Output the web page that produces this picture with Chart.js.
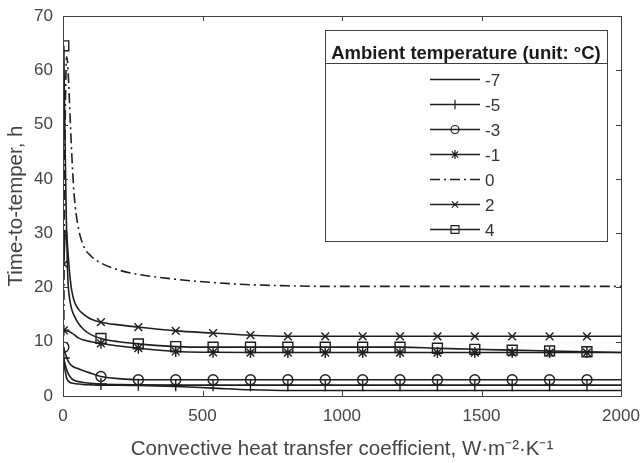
<!DOCTYPE html>
<html>
<head>
<meta charset="utf-8">
<script src="https://cdn.jsdelivr.net/npm/chart.js@4.4.0/dist/chart.umd.min.js"></script>
<style>
html, body { margin: 0; padding: 0; background: #fff; }
#wrap { width: 643px; height: 463px; position: relative; }
</style>
</head>
<body>
<div id="wrap"><canvas id="c"></canvas></div>
<script>
// convective heat transfer coefficient (x) and marker positions
var hValues = [3, 5, 10, 13, 17, 20, 25, 31, 40, 55, 75, 100, 136, 200, 270, 404, 538, 672, 806, 940, 1074, 1208, 1342, 1476, 1610, 1744, 1878, 2000];
var markerH = [3, 136, 270, 404, 538, 672, 806, 940, 1074, 1208, 1342, 1476, 1610, 1744, 1878];

// time-to-temper, h, per ambient temperature
var tMinus7 = [6.8, 5.6, 4.0, 3.3, 2.9, 2.7, 2.5, 2.4, 2.3, 2.2, 2.1, 2.05, 2.0, 2.0, 1.95, 1.75, 1.45, 1.15, 1.0, 1.0, 1.0, 1.0, 1.0, 1.0, 1.0, 1.0, 1.0, 1.0];
var tMinus5 = [7.0, 6.4, 5.4, 4.9, 4.3, 4.0, 3.6, 3.2, 2.9, 2.65, 2.5, 2.35, 2.2, 2.1, 2.05, 2.0, 2.0, 2.0, 2.0, 2.0, 2.0, 2.0, 2.0, 2.0, 2.0, 2.0, 2.0, 2.0];
var tMinus3 = [9.0, 8.4, 7.6, 7.1, 6.6, 6.3, 5.9, 5.6, 5.3, 5.0, 4.6, 4.2, 3.6, 3.2, 3.0, 3.0, 3.0, 3.0, 3.0, 3.0, 3.0, 3.0, 3.0, 3.0, 3.0, 3.0, 3.0, 3.0];
var tMinus1 = [12.1, 12.1, 12.0, 12.0, 12.0, 11.9, 11.8, 11.6, 11.3, 10.7, 10.3, 10.0, 9.7, 9.2, 8.8, 8.2, 8.05, 8.0, 8.0, 8.0, 8.0, 8.0, 8.0, 8.0, 8.0, 8.0, 8.0, 8.0];
var tZero = [14, 36, 58, 62.5, 61, 58, 52, 45, 37, 31, 27.5, 25.8, 24.5, 23.2, 22.4, 21.5, 20.9, 20.5, 20.3, 20.2, 20.2, 20.2, 20.2, 20.2, 20.2, 20.2, 20.2, 20.2];
var tPlus2 = [24.3, 27, 30.5, 30, 27, 25, 22, 19.5, 17.5, 16, 15, 14.2, 13.6, 13.1, 12.7, 12.0, 11.6, 11.2, 11.0, 11.0, 11.0, 11.0, 11.0, 11.0, 11.0, 11.0, 11.0, 11.0];
var tPlus4 = [64.5, 55, 38, 30, 22, 19.5, 17.5, 16, 14.8, 13.4, 12.2, 11.3, 10.6, 10.0, 9.6, 9.1, 9.0, 9.0, 9.0, 9.0, 9.0, 9.0, 8.8, 8.6, 8.45, 8.3, 8.15, 8.0];

var xTicks = [0, 500, 1000, 1500, 2000];
var yTicks = [0, 10, 20, 30, 40, 50, 60, 70];
var legendTitle = 'Ambient temperature (unit: \u00B0C)';

var ink = '#1e1e1e';
var axisInk = '#404040';
var font = '"Liberation Sans", Arial, Helvetica, sans-serif';

function makeSet(label, values, style, radius, dash) {
    return {
        label: label,
        data: hValues.map(function (h, i) { return { x: h, y: values[i] }; }),
        borderColor: ink,
        borderWidth: 1.6,
        borderDash: dash || [],
        pointStyle: style || 'circle',
        markerStyle: style,
        markerRadius: radius,
        pointRadius: function (ctx) {
            return style && markerH.indexOf(hValues[ctx.dataIndex]) >= 0 ? radius : 0;
        },
        pointHoverRadius: 0,
        pointBorderColor: ink,
        pointBackgroundColor: 'rgba(0,0,0,0)',
        pointBorderWidth: 1.4,
        cubicInterpolationMode: 'monotone',
        fill: false
    };
}

function drawMarker(c, style, r, x, y) {
    if (Chart.helpers && Chart.helpers.drawPoint) {
        Chart.helpers.drawPoint(c, { pointStyle: style, radius: r, rotation: 0, borderWidth: 1.2 }, x, y);
        return;
    }
    c.beginPath(); c.arc(x, y, r, 0, Math.PI * 2); c.stroke();
}

var frame = {
    id: 'frame',
    afterDatasetsDraw: function (chart) {
        var c = chart.ctx, a = chart.chartArea;
        var xs = chart.scales.x, ys = chart.scales.y;
        c.save();
        c.strokeStyle = axisInk;
        c.lineWidth = 1;
        c.strokeRect(Math.round(a.left) + 0.5, Math.round(a.top) + 0.5, Math.round(a.right - a.left), Math.round(a.bottom - a.top));
        c.beginPath();
        xTicks.forEach(function (v) {
            var px = Math.round(xs.getPixelForValue(v)) + 0.5;
            c.moveTo(px, a.bottom); c.lineTo(px, a.bottom - 5);
            c.moveTo(px, a.top); c.lineTo(px, a.top + 5);
        });
        yTicks.forEach(function (v) {
            var py = Math.round(ys.getPixelForValue(v)) + 0.5;
            c.moveTo(a.left, py); c.lineTo(a.left + 5, py);
            c.moveTo(a.right, py); c.lineTo(a.right - 5, py);
        });
        c.stroke();

        // legend box, top right inside the axes
        var bw = 282, bh = 211;
        var bx = Math.round(a.right - 14 - bw), by = Math.round(a.top + 14);
        c.fillStyle = '#fff';
        c.fillRect(bx, by, bw, bh);
        c.strokeStyle = axisInk;
        c.strokeRect(bx + 0.5, by + 0.5, bw, bh);
        c.beginPath();
        c.moveTo(bx, by + 33.5); c.lineTo(bx + bw, by + 33.5);
        c.stroke();
        c.fillStyle = '#1a1a1a';
        c.font = 'bold 18.5px ' + font;
        c.textAlign = 'center';
        c.textBaseline = 'alphabetic';
        c.fillText(legendTitle, bx + bw / 2, by + 29);

        chart.data.datasets.forEach(function (ds, i) {
            var y = Math.round(by + 48.5 + i * 25) + 0.5;
            c.strokeStyle = ink;
            c.lineWidth = ds.borderWidth;
            c.setLineDash(ds.borderDash);
            c.beginPath();
            c.moveTo(bx + 105, y); c.lineTo(bx + 155, y);
            c.stroke();
            c.setLineDash([]);
            if (ds.markerStyle) {
                c.fillStyle = 'rgba(0,0,0,0)';
                c.lineWidth = 1.2;
                drawMarker(c, ds.markerStyle, ds.markerRadius * 0.8, bx + 130, y);
            }
            c.fillStyle = '#333';
            c.font = '17px ' + font;
            c.textAlign = 'left';
            c.fillText(ds.label, bx + 160, y + 6);
        });
        c.restore();
    }
};

new Chart(document.getElementById('c'), {
    type: 'line',
    data: {
        datasets: [
            makeSet('-7', tMinus7, null, 0),
            makeSet('-5', tMinus5, 'cross', 6),
            makeSet('-3', tMinus3, 'circle', 5),
            makeSet('-1', tMinus1, 'star', 5.5),
            makeSet('0', tZero, null, 0, [10, 4, 2, 4]),
            makeSet('2', tPlus2, 'crossRot', 5.5),
            makeSet('4', tPlus4, 'rect', 7)
        ]
    },
    options: {
        responsive: true,
        maintainAspectRatio: false,
        animation: false,
        layout: { padding: { top: 16, right: 22, bottom: 0, left: 0 } },
        plugins: { legend: { display: false }, tooltip: { enabled: false } },
        scales: {
            x: {
                type: 'linear',
                min: 0, max: 2000,
                afterFit: function (s) { s.height = 67; s.paddingLeft = 0; s.paddingRight = 0; },
                afterBuildTicks: function (s) { s.ticks = xTicks.map(function (v) { return { value: v }; }); },
                grid: { display: false, drawTicks: false },
                border: { display: false },
                ticks: {
                    color: '#444', padding: 10, font: { family: font, size: 17 }, maxRotation: 0,
                    callback: function (v) { return String(v); }
                },
                title: {
                    display: true,
                    text: 'Convective heat transfer coefficient, W\u00B7m\u207B\u00B2\u00B7K\u207B\u00B9',
                    color: '#444',
                    font: { family: font, size: 20.5 },
                    padding: { top: 0, bottom: 1 }
                }
            },
            y: {
                min: 0, max: 70,
                afterFit: function (s) { s.width = 63; s.paddingTop = 0; s.paddingBottom = 0; },
                afterBuildTicks: function (s) { s.ticks = yTicks.map(function (v) { return { value: v }; }); },
                grid: { display: false, drawTicks: false },
                border: { display: false },
                ticks: { color: '#444', padding: 10, font: { family: font, size: 17 } },
                title: {
                    display: true,
                    text: 'Time-to-temper, h',
                    color: '#444',
                    font: { family: font, size: 20.5 },
                    padding: { top: 4, bottom: 0 }
                }
            }
        }
    },
    plugins: [frame]
});
</script>
</body>
</html>
